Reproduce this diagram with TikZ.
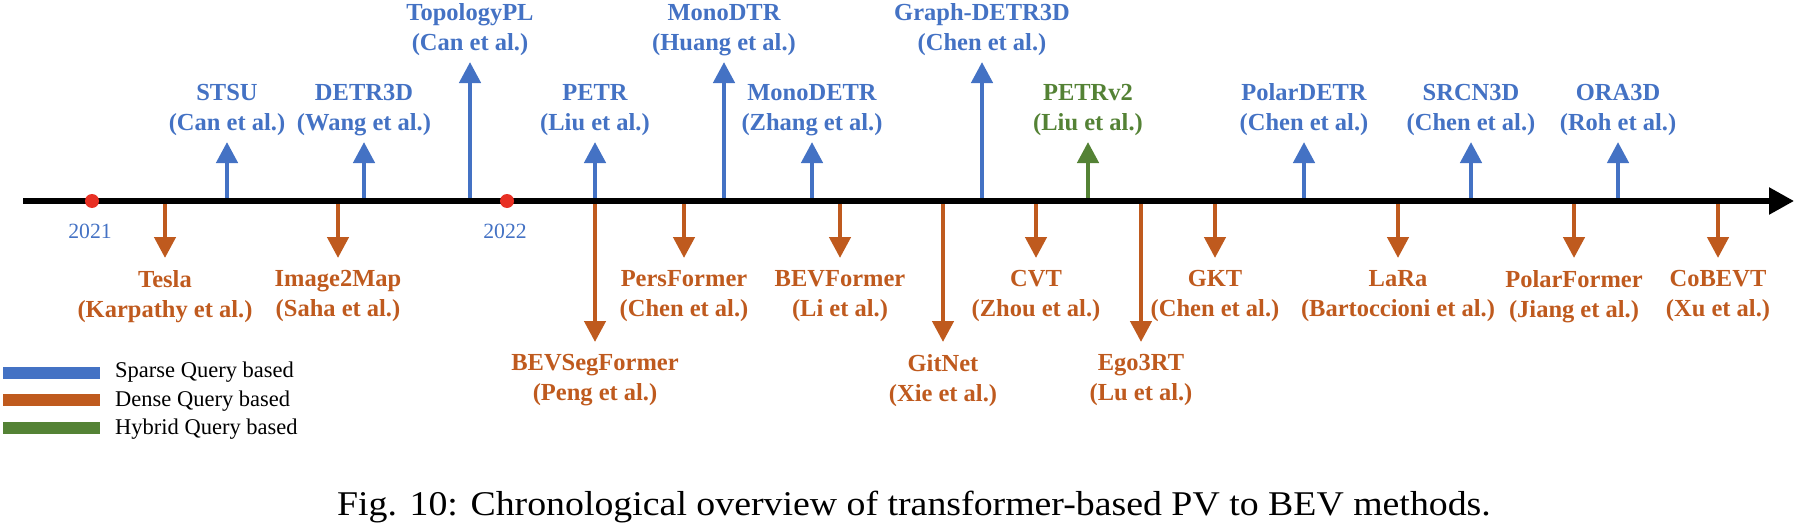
\documentclass[tikz,border=0pt]{standalone}
\usepackage{fontspec}
\setmainfont{Liberation Serif}
\usetikzlibrary{arrows.meta}
\definecolor{sq}{RGB}{68,114,196}
\definecolor{dq}{RGB}{191,90,30}
\definecolor{hq}{RGB}{84,130,53}
\definecolor{yr}{RGB}{232,48,36}
\begin{document}
\begin{tikzpicture}[x=1pt,y=-1pt,
  lab/.style={font=\fontsize{24.5}{30}\selectfont\bfseries, align=center, inner sep=0pt},
  yrlab/.style={font=\fontsize{21.7}{26}\selectfont, text=sq, inner sep=0pt},
  leglab/.style={font=\fontsize{22.5}{27}\selectfont, anchor=base west, inner sep=0pt},
  uparr/.style={line width=4.5pt, -{Triangle[length=21pt,width=21pt]}},
  axisline/.style={line width=5.5pt, black, -{Triangle[length=25pt,width=26pt]}},
  yrdot/.style={circle, fill=yr, minimum size=14pt, inner sep=0pt}]
\useasboundingbox (0,0) rectangle (1799,527);
% upward (sparse / hybrid) items
\foreach \i/\x/\t/\c/\a/\b in {
  1/227/142/sq/STSU/Can,
  2/364/142/sq/DETR3D/Wang,
  3/470/62/sq/TopologyPL/Can,
  4/595/142/sq/PETR/Liu,
  5/724/62/sq/MonoDTR/Huang,
  6/812/142/sq/MonoDETR/Zhang,
  7/982/62/sq/Graph-DETR3D/Chen,
  8/1088/142/hq/PETRv2/Liu,
  9/1304/142/sq/PolarDETR/Chen,
  10/1471/142/sq/SRCN3D/Chen,
  11/1618/142/sq/ORA3D/Roh}{
  \coordinate (ub\i) at (\x,201);
  \coordinate (ut\i) at (\x,\t);
  \draw[uparr, \c] (ub\i) -- (ut\i);
  \node[lab, text=\c, anchor=south, yshift=6pt] (ul\i) at (ut\i) {\a\\(\b{} et al.)};
}
% downward (dense) items
\foreach \i/\x/\t/\a/\b in {
  1/165/258/Tesla/Karpathy,
  2/338/258/Image2Map/Saha,
  3/595/342/BEVSegFormer/Peng,
  4/684/258/PersFormer/Chen,
  5/840/258/BEVFormer/Li,
  6/943/342/GitNet/Xie,
  7/1036/258/CVT/Zhou,
  8/1141/342/Ego3RT/Lu,
  9/1215/258/GKT/Chen,
  10/1398/258/LaRa/Bartoccioni,
  11/1574/258/PolarFormer/Jiang,
  12/1718/258/CoBEVT/Xu}{
  \coordinate (db\i) at (\x,201);
  \coordinate (dt\i) at (\x,\t);
  \draw[uparr, dq] (db\i) -- (dt\i);
  \node[lab, text=dq, anchor=north, yshift=-12pt] (dl\i) at (dt\i) {\a\\(\b{} et al.)};
}
% time axis
\coordinate (ax0) at (23,201);
\coordinate (ax1) at (1794,201);
\draw[axisline] (ax0) -- (ax1);
\node[yrdot] (d2021) at (92,201) {};
\node[yrdot] (d2022) at (507,201) {};
\node[yrlab] (y2021) at (90,231) {2021};
\node[yrlab] (y2022) at (505,231) {2022};
% legend
\fill[sq] (3,367) rectangle (100,379);
\fill[dq] (3,394) rectangle (100,406);
\fill[hq] (3,422) rectangle (100,434);
\node[leglab] (lg1) at (115,377) {Sparse Query based};
\node[leglab] (lg2) at (115,406) {Dense Query based};
\node[leglab] (lg3) at (115,434) {Hybrid Query based};
% caption
\node[font=\fontsize{34.7}{40}\selectfont, anchor=base, inner sep=0pt] (cap) at (914,515)
  {\scalebox{1.09}[1]{Fig. 10: Chronological overview of transformer-based PV to BEV methods.}};
\end{tikzpicture}
\end{document}
